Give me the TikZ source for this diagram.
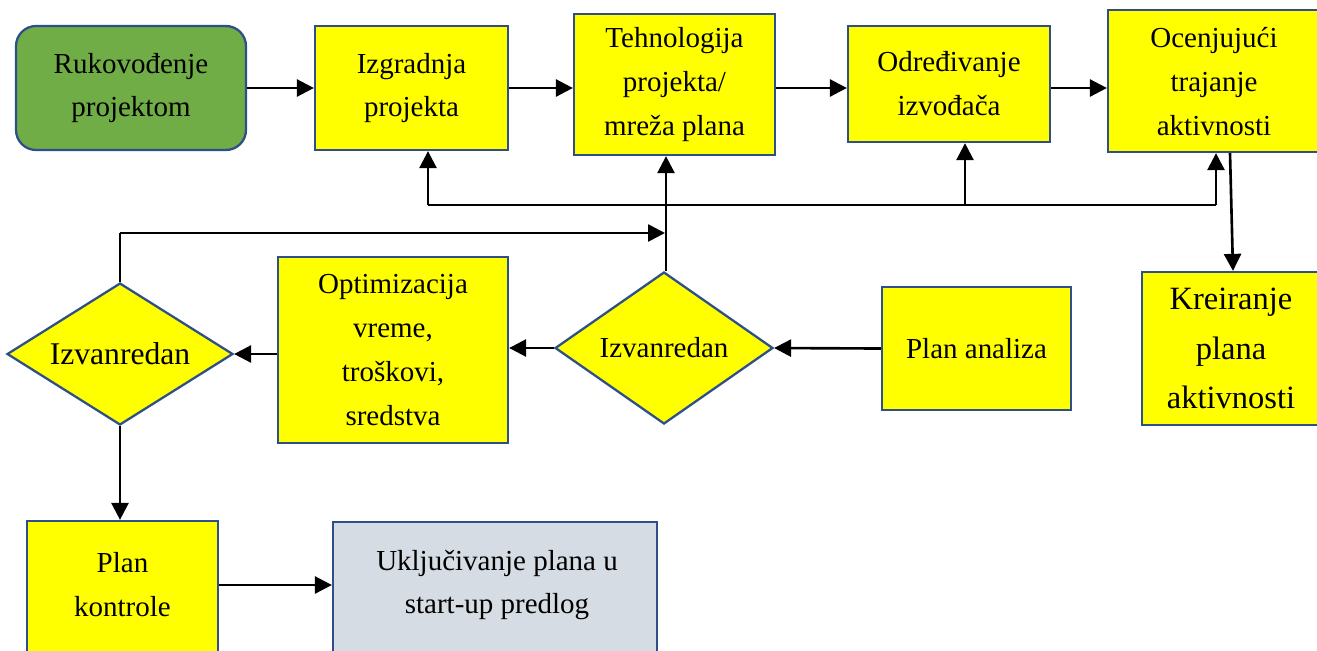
\documentclass[tikz,border=0pt]{standalone}
\usepackage{fontspec}
\setmainfont{Liberation Serif}
\usetikzlibrary{shapes.geometric,arrows.meta}
\definecolor{boxedge}{HTML}{2F4F8A}
\definecolor{boxyellow}{HTML}{FFFF00}
\definecolor{boxgreen}{HTML}{70AD47}
\definecolor{boxgray}{HTML}{D6DCE4}
\tikzset{
  base/.style={draw=boxedge, line width=1.3pt, align=center, inner sep=2pt,
    font=\fontsize{16.5}{25}\selectfont},
  stepbox/.style={base, fill=boxyellow, rectangle},
  startbox/.style={base, fill=boxgreen, rounded corners=0.4cm},
  endbox/.style={base, fill=boxgray, rectangle},
  decision/.style={base, fill=boxyellow, diamond, inner sep=0pt},
  txt/.style={align=center, inner sep=0pt, font=\fontsize{16.5}{25}\selectfont},
  arr/.style={line width=1.5pt, -{Triangle[length=0.34cm,width=0.34cm]}},
  fb/.style={line width=0.9pt},
}
\begin{document}
\begin{tikzpicture}[x=0.02cm,y=-0.02cm]
\useasboundingbox (0,0) rectangle (1317,650);
\clip (0,0) rectangle (1317,650);

% top row
\node[startbox, minimum width=4.6cm, minimum height=2.48cm] (ruk) at (131,88) {Rukovođenje\\projektom};
\node[stepbox, minimum width=3.86cm, minimum height=2.48cm] (izg) at (411.5,88) {Izgradnja\\projekta};
\node[stepbox, minimum width=4.02cm, minimum height=2.82cm] (teh) at (674.5,84.5) {Tehnologija\\projekta/\\mreža plana};
\node[stepbox, minimum width=4.04cm, minimum height=2.32cm] (odr) at (949,84) {Određivanje\\izvođača};
\node[stepbox, minimum width=4.24cm, minimum height=2.84cm, text depth=0pt] (oce) at (1214,81) {Ocenjujući\\trajanje\\aktivnosti};

% middle row
\node[stepbox, minimum width=3.56cm, minimum height=3.06cm,
  font=\fontsize{18.5}{28}\selectfont] (kre) at (1231,348.5) {Kreiranje\\plana\\aktivnosti};
\node[stepbox, minimum width=3.78cm, minimum height=2.46cm] (pla) at (976.5,348.5) {Plan analiza};
\node[decision, shape aspect=1.43, minimum width=4.36cm, minimum height=3.04cm] (dmid) at (664,348) {Izvanredan};
\node[stepbox, minimum width=4.6cm, minimum height=3.72cm] (opt) at (393,350) {Optimizacija\\vreme,\\troškovi,\\sredstva};
\node[decision, shape aspect=1.59, minimum width=4.52cm, minimum height=2.84cm,
  font=\fontsize{18}{25}\selectfont] (dleft) at (120,354) {Izvanredan};

% bottom row
\node[stepbox, minimum width=3.82cm, minimum height=2.8cm] (pk) at (122.5,591) {};
\node[txt] (pktext) at (122.5,585) {Plan\\kontrole};
\node[endbox, minimum width=6.48cm, minimum height=2.8cm] (uk) at (495,592) {};
\node[txt] (uktext) at (497,585) {Uključivanje plana u\\start-up predlog};

% main flow along the top
\draw[arr] (ruk.east) -- (izg.west);
\draw[arr] (izg.east) -- (izg.east -| teh.west);
\draw[arr] (teh.east |- ruk.east) -- (odr.west |- ruk.east);
\draw[arr] (odr.east |- ruk.east) -- (oce.west |- ruk.east);

% feedback bus under the top row
\coordinate (fbL) at (428,205);
\coordinate (fbM) at (965,205);
\coordinate (fbR) at (1216,205);
\draw[fb] (fbL) -- (fbR);
\draw[arr] (fbL) -- (izg.south -| fbL);
\draw[arr] (fbM) -- (odr.south -| fbM);
\draw[arr] (fbR) -- (oce.south -| fbR);

% activity plan
\draw[arr] ([xshift=0.32cm]oce.south) -- ([xshift=0.04cm]kre.north);

% analysis loop
\coordinate (tehin) at (666,233);
\draw[arr] (dmid.north -| tehin) -- (teh.south -| tehin);
\draw[line width=1pt] (dleft.north) |- (120,233);
\draw[arr] (120,233) -- ([xshift=-0.02cm]tehin);
\draw[arr] (pla.west) -- (dmid.east);
\draw[arr] (dmid.west) -- (dmid.west -| opt.east);
\draw[arr] (dleft.east -| opt.west) -- (dleft.east);
\draw[arr] (dleft.south) -- (pk.north -| dleft.south);
\draw[arr] (pk.east |- pktext) -- (uk.west |- pktext);
\end{tikzpicture}
\end{document}
